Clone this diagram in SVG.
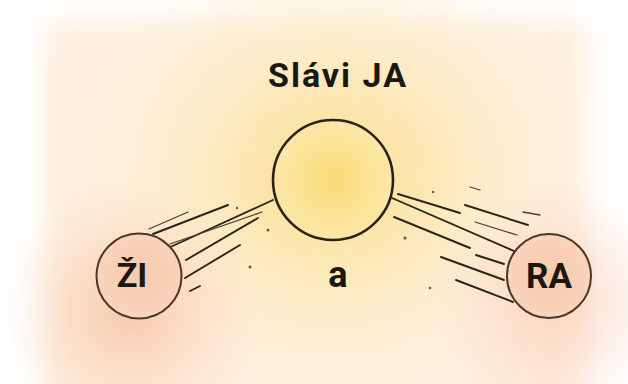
<svg xmlns="http://www.w3.org/2000/svg" width="628" height="384" viewBox="0 0 628 384">
  <defs>
    <filter id="soft" x="-20%" y="-20%" width="140%" height="140%">
      <feGaussianBlur stdDeviation="14"/>
    </filter>
    <radialGradient id="gYellow" cx="333" cy="175" r="270" gradientUnits="userSpaceOnUse" gradientTransform="translate(333 175) scale(1 0.9) translate(-333 -175)">
      <stop offset="0" stop-color="#fbdc80" stop-opacity="0.9"/>
      <stop offset="0.35" stop-color="#fce6aa" stop-opacity="0.8"/>
      <stop offset="0.75" stop-color="#fdefd2" stop-opacity="0.45"/>
      <stop offset="1" stop-color="#fdf3e6" stop-opacity="0"/>
    </radialGradient>
    <radialGradient id="gOrangeL" cx="130" cy="310" r="130" gradientUnits="userSpaceOnUse">
      <stop offset="0" stop-color="#f7b592" stop-opacity="0.65"/>
      <stop offset="0.5" stop-color="#f8c8aa" stop-opacity="0.4"/>
      <stop offset="1" stop-color="#fbd9c8" stop-opacity="0"/>
    </radialGradient>
    <radialGradient id="gOrangeR" cx="555" cy="300" r="120" gradientUnits="userSpaceOnUse">
      <stop offset="0" stop-color="#f8c0a4" stop-opacity="0.55"/>
      <stop offset="0.5" stop-color="#f9cfbb" stop-opacity="0.38"/>
      <stop offset="1" stop-color="#fbdccf" stop-opacity="0"/>
    </radialGradient>
    <radialGradient id="gCenter" cx="0.5" cy="0.5" r="0.5">
      <stop offset="0" stop-color="#fbdb78"/>
      <stop offset="1" stop-color="#fce7a8"/>
    </radialGradient>
    <radialGradient id="gSide" cx="0.5" cy="0.5" r="0.5">
      <stop offset="0" stop-color="#f8c9aa"/>
      <stop offset="1" stop-color="#f9d4bc"/>
    </radialGradient>
  </defs>
  <style>
    .lbl { font-family: Roboto, "Liberation Sans", sans-serif; font-weight: 700; fill: #1a1814; text-anchor: middle; }
    .hatch line { stroke: #2a2419; stroke-width: 1.9; stroke-linecap: round; fill: none; }
    .hatch .thin { stroke-width: 1.3; stroke: #4a3f30; }
    .dot { fill: #6a5a45; }
  </style>

  <rect width="628" height="384" fill="#ffffff"/>
  <g id="background">
    <rect x="45" y="22" width="540" height="400" fill="#fdeedd" filter="url(#soft)"/>
    <rect x="0" y="0" width="628" height="384" fill="url(#gYellow)"/>
    <rect x="0" y="0" width="628" height="384" fill="url(#gOrangeL)"/>
    <rect x="0" y="0" width="628" height="384" fill="url(#gOrangeR)"/>
  </g>

  <g id="connectors" class="hatch">
    <!-- left bundle: ŽI to center -->
    <line x1="149" y1="229" x2="188" y2="212" class="thin"/>
    <line x1="153" y1="234" x2="228" y2="205"/>
    <line x1="166" y1="249" x2="273" y2="200"/>
    <line x1="170" y1="244" x2="262" y2="212" class="thin"/>
    <line x1="186" y1="260" x2="258" y2="218"/>
    <line x1="185" y1="278" x2="240" y2="245"/>
    <line x1="190" y1="291" x2="200" y2="286"/>
    <circle class="dot" cx="250" cy="267" r="1.5"/>
    <circle class="dot" cx="268" cy="230" r="1.5"/>
    <circle class="dot" cx="237" cy="208" r="1.2"/>
    <!-- right bundle: center to RA -->
    <line x1="392" y1="198" x2="514" y2="251"/>
    <line x1="398" y1="194" x2="460" y2="213"/>
    <line x1="465" y1="205" x2="528" y2="225"/>
    <line x1="394" y1="217" x2="470" y2="248"/>
    <line x1="476" y1="255" x2="504" y2="264"/>
    <line x1="441" y1="257" x2="504" y2="280"/>
    <line x1="456" y1="280" x2="513" y2="302"/>
    <line x1="475" y1="222" x2="517" y2="235" class="thin"/>
    <line x1="523" y1="212" x2="540" y2="215" class="thin"/>
    <line x1="470" y1="187" x2="480" y2="190" class="thin"/>
    <circle class="dot" cx="405" cy="238" r="1.6"/>
    <circle class="dot" cx="430" cy="288" r="1.3"/>
    <circle class="dot" cx="433" cy="192" r="1.3"/>
  </g>

  <g id="node-center">
    <circle cx="333" cy="180" r="60" fill="url(#gCenter)" stroke="#2b2318" stroke-width="2.6"/>
    <text class="lbl" x="338" y="87" font-size="34" letter-spacing="2">Slávi JA</text>
  </g>

  <g id="node-zi">
    <circle cx="139" cy="276" r="42.5" fill="url(#gSide)" stroke="#4e3624" stroke-width="2"/>
    <text class="lbl" x="132" y="287" font-size="34">ŽI</text>
  </g>

  <g id="node-ra">
    <circle cx="549" cy="276" r="42" fill="url(#gSide)" stroke="#4e3624" stroke-width="2"/>
    <text class="lbl" x="549" y="288" font-size="35">RA</text>
  </g>

  <g id="label-a">
    <text class="lbl" x="338" y="287" font-size="36">a</text>
  </g>
</svg>
